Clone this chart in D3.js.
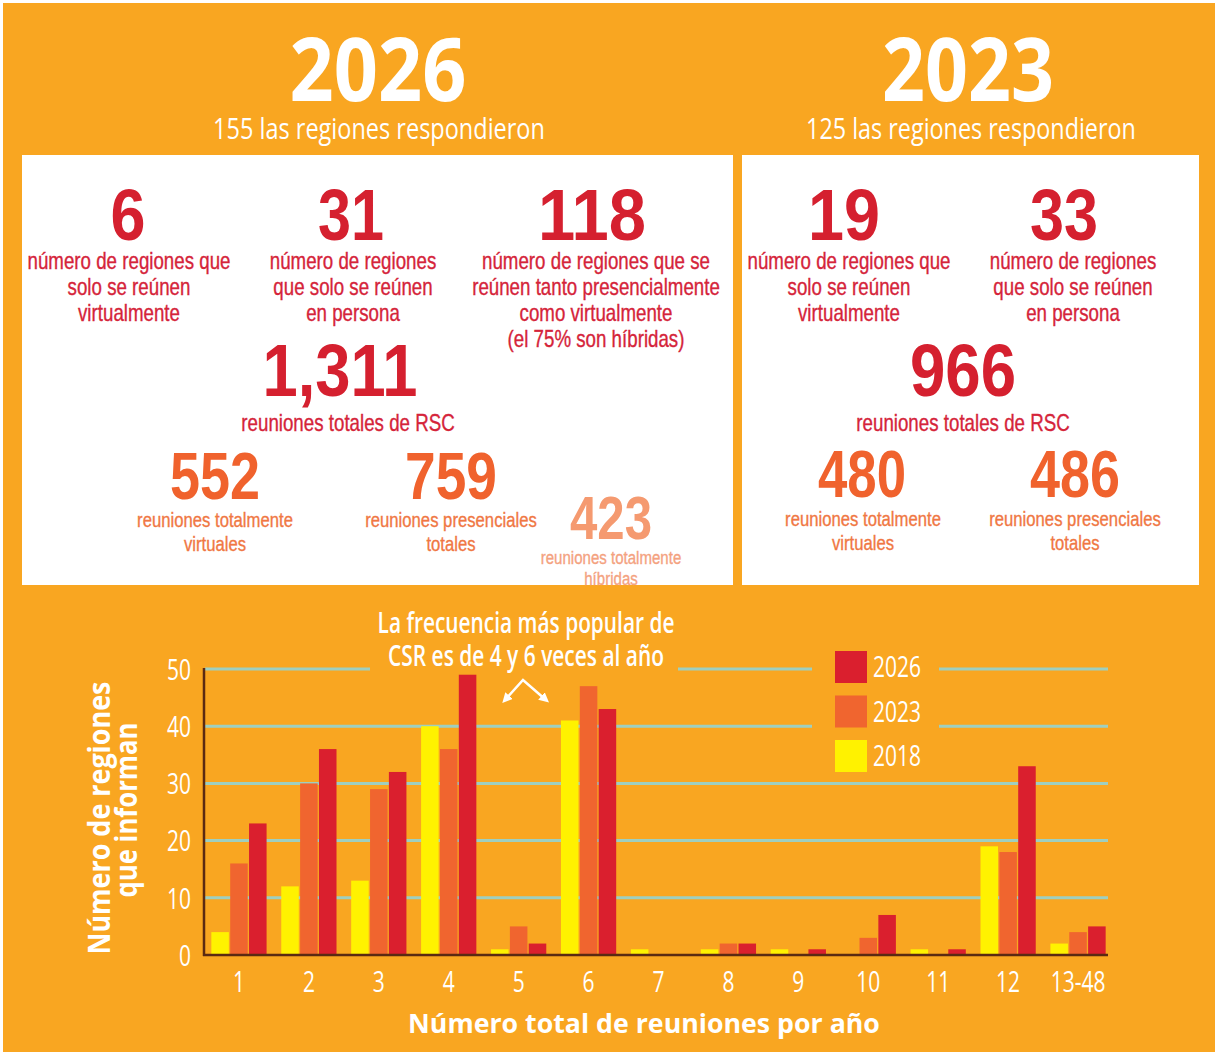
<!DOCTYPE html>
<html>
<head>
<meta charset="utf-8">
<script src="https://cdn.jsdelivr.net/npm/d3@7"></script>
<style>
  body { margin: 0; background: #fff; }
  svg { display: block; }
</style>
</head>
<body>
<svg id="chart" width="1215" height="1052"></svg>
<script>
'use strict';

// ---- data ----
const categories = ['1', '2', '3', '4', '5', '6', '7', '8', '9', '10', '11', '12', '13-48'];
const seriesYears = ['2018', '2023', '2026'];
const values2018 = [4, 12, 13, 40, 1, 41, 1, 1, 1, 0, 1, 19, 2];
const values2023 = [16, 30, 29, 36, 5, 47, 0, 2, 0, 3, 0, 18, 4];
const values2026 = [23, 36, 32, 49, 2, 43, 0, 2, 1, 7, 1, 33, 5];
const yTicks = [0, 10, 20, 30, 40, 50];
const legendYears = ['2026', '2023', '2018'];

const headerYears = ['2026', '2023'];
const headerSubs = ['155 las regiones respondieron', '125 las regiones respondieron'];

const stats2026 = ['6', '31', '118', '1,311', '552', '759', '423'];
const statLabels2026 = [
  ['número de regiones que', 'solo se reúnen', 'virtualmente'],
  ['número de regiones', 'que solo se reúnen', 'en persona'],
  ['número de regiones que se', 'reúnen tanto presencialmente', 'como virtualmente', '(el 75% son híbridas)'],
  ['reuniones totales de RSC'],
  ['reuniones totalmente', 'virtuales'],
  ['reuniones presenciales', 'totales'],
  ['reuniones totalmente', 'híbridas'],
];
const stats2023 = ['19', '33', '966', '480', '486'];
const statLabels2023 = [
  ['número de regiones que', 'solo se reúnen', 'virtualmente'],
  ['número de regiones', 'que solo se reúnen', 'en persona'],
  ['reuniones totales de RSC'],
  ['reuniones totalmente', 'virtuales'],
  ['reuniones presenciales', 'totales'],
];

const annotation = ['La frecuencia más popular de', 'CSR es de 4 y 6 veces al año'];
const yTitle = ['Número de regiones', 'que informan'];
const xTitle = 'Número total de reuniones por año';

// ---- styles ----
const FONT = "'Open Sans', 'Liberation Sans', sans-serif";
// tighter line boxes for the stacked stat texts
const BOX_FONT = "'Liberation Sans', Arial, sans-serif";
const BG = '#F9A621';
const seriesColor = { '2018': '#FFF200', '2023': '#F0652F', '2026': '#DA1F2E' };
const tiers = {
  red:    { num: '#D5202F', lab: '#D5243A', size: 23, lh: 26 },
  orange: { num: '#F0622D', lab: '#F07743', size: 20.5, lh: 24 },
  pale:   { num: '#F59A70', lab: '#F4A27F', size: 18.5, lh: 21 },
};

const svg = d3.select('#chart');
svg.append('rect')
   .attr('x', 3).attr('y', 3)
   .attr('width', 1212).attr('height', 1049)
   .attr('fill', BG);

// the original is set in a condensed face, so squeeze texts to the widths in the picture
const fitText = function (g, str, x, y, w, size, fill, weight, rotate, family) {
  const t = g.append('text')
     .attr('text-anchor', 'middle')
     .attr('font-family', family || FONT)
     .attr('font-size', size)
     .attr('font-weight', weight)
     .attr('fill', fill)
     .text(str);
  const k = w / t.node().getComputedTextLength();
  t.attr('transform', `translate(${x},${y})${rotate ? ' rotate(-90)' : ''} scale(${k},1)`);
  return t;
};

// one squeeze factor for all the small labels, taken from one line of known width
const probe = svg.append('text').attr('font-family', BOX_FONT).attr('font-size', 23).text('número de regiones que');
const labelK = 203 / probe.node().getComputedTextLength();
probe.remove();

const labelLines = function (g, arr, x, y, tier) {
  arr.forEach((s, i) => {
    g.append('text')
     .attr('text-anchor', 'middle')
     .attr('font-family', BOX_FONT)
     .attr('font-size', tier.size)
     .attr('fill', tier.lab)
     .attr('stroke', tier.lab)
     .attr('stroke-width', 0.35)
     .attr('transform', `translate(${x},${y + i * tier.lh}) scale(${labelK},1)`)
     .text(s);
  });
};

// ---- headers ----
const headerPos = [
  { x: 378, w: 177, sx: 379, sw: 332 },
  { x: 968, w: 172, sx: 971, sw: 330 },
];
headerYears.forEach((yr, i) => {
  fitText(svg, yr, headerPos[i].x, 101, headerPos[i].w, 87, '#fff', 700);
  fitText(svg, headerSubs[i], headerPos[i].sx, 139, headerPos[i].sw, 30, '#fff', 400);
});

// ---- white stat boxes ----
svg.append('rect').attr('x', 22).attr('y', 155).attr('width', 711).attr('height', 430).attr('fill', '#fff');
svg.append('rect').attr('x', 742).attr('y', 155).attr('width', 457).attr('height', 430).attr('fill', '#fff');

const layout2026 = [
  { x: 128, y: 240, size: 73, w: 35, lx: 129, ly: 269, tier: 'red' },
  { x: 351, y: 240, size: 73, w: 66, lx: 353, ly: 269, tier: 'red' },
  { x: 592, y: 240, size: 73, w: 108, lx: 596, ly: 269, tier: 'red' },
  { x: 340, y: 396, size: 75, w: 155, lx: 348, ly: 431, tier: 'red' },
  { x: 215, y: 499, size: 67, w: 90, lx: 215, ly: 527, tier: 'orange' },
  { x: 451, y: 499, size: 67, w: 92, lx: 451, ly: 527, tier: 'orange' },
  { x: 611, y: 539, size: 62, w: 82, lx: 611, ly: 564, tier: 'pale' },
];
const layout2023 = [
  { x: 844, y: 240, size: 73, w: 72, lx: 849, ly: 269, tier: 'red' },
  { x: 1064, y: 240, size: 73, w: 68, lx: 1073, ly: 269, tier: 'red' },
  { x: 963, y: 396, size: 75, w: 106, lx: 963, ly: 431, tier: 'red' },
  { x: 862, y: 497, size: 67, w: 88, lx: 863, ly: 526, tier: 'orange' },
  { x: 1075, y: 497, size: 67, w: 90, lx: 1075, ly: 526, tier: 'orange' },
];

const drawStats = function (nums, labels, layout) {
  const g = svg.append('g');
  nums.forEach((n, i) => {
    const p = layout[i];
    const tier = tiers[p.tier];
    fitText(g, n, p.x, p.y, p.w, p.size, tier.num, 700, false, BOX_FONT);
    labelLines(g, labels[i], p.lx, p.ly, tier);
  });
};
drawStats(stats2026, statLabels2026, layout2026);
drawStats(stats2023, statLabels2023, layout2023);

// ---- bar chart ----
const table = categories.map((c, i) => ({
  cat: c,
  '2018': values2018[i],
  '2023': values2023[i],
  '2026': values2026[i],
}));

const x = d3.scaleBand()
  .domain(categories)
  .range([204, 1113])
  .paddingInner(0.21)
  .paddingOuter(0.105);
const xInner = d3.scaleBand()
  .domain(seriesYears)
  .range([0, x.bandwidth()])
  .paddingInner(0.07);
const y = d3.scaleLinear().domain([0, 50]).range([955, 669]);

// grid
svg.append('g')
   .selectAll('line')
   .data(yTicks.filter((d) => d > 0))
   .join('line')
   .attr('x1', 205).attr('x2', 1108)
   .attr('y1', (d) => y(d)).attr('y2', (d) => y(d))
   .attr('stroke', '#9ECFC0')
   .attr('stroke-width', 3);

// gaps in the grid behind the note and the legend
svg.append('rect').attr('x', 370).attr('y', 600).attr('width', 308).attr('height', 74).attr('fill', BG);
svg.append('rect').attr('x', 812).attr('y', 640).attr('width', 127).attr('height', 136).attr('fill', BG);

// bars
const groups = svg.append('g')
  .selectAll('g')
  .data(table)
  .join('g')
  .attr('transform', (d) => `translate(${x(d.cat)},0)`);
groups.selectAll('rect')
  .data((d) => seriesYears.map((s) => ({ s: s, v: d[s] })))
  .join('rect')
  .attr('x', (d) => xInner(d.s))
  .attr('width', xInner.bandwidth())
  .attr('y', (d) => y(d.v))
  .attr('height', (d) => y(0) - y(d.v))
  .attr('fill', (d) => seriesColor[d.s]);

// axis lines
svg.append('line').attr('x1', 204).attr('x2', 204).attr('y1', 668).attr('y2', 956)
   .attr('stroke', '#5B2A12').attr('stroke-width', 2.5);
svg.append('line').attr('x1', 203).attr('x2', 1108).attr('y1', 955).attr('y2', 955)
   .attr('stroke', '#5B2A12').attr('stroke-width', 2.5);

const tickK = 0.7;
const yAxis = svg.append('g')
  .attr('transform', 'translate(204,0)')
  .call(d3.axisLeft(y).tickValues(yTicks).tickSize(0));
yAxis.select('.domain').remove();
yAxis.selectAll('text')
  .attr('fill', '#fff')
  .attr('font-family', FONT)
  .attr('font-size', 30)
  .attr('x', -13 / tickK)
  .attr('dy', '0.34em')
  .attr('transform', `scale(${tickK},1)`);

const xAxis = svg.append('g')
  .attr('transform', 'translate(0,955)')
  .call(d3.axisBottom(x).tickSize(0));
xAxis.select('.domain').remove();
xAxis.selectAll('text')
  .attr('fill', '#fff')
  .attr('font-family', FONT)
  .attr('font-size', 30)
  .attr('y', 37)
  .attr('dy', 0)
  .attr('transform', `scale(${tickK},1)`)
  .attr('x', 0);

// axis titles
fitText(svg, xTitle, 644, 1033, 472, 27, '#fff', 700);
fitText(svg, yTitle[0], 110, 818, 273, 30, '#fff', 700, true);
fitText(svg, yTitle[1], 137, 810, 175, 30, '#fff', 700, true);

// legend
const legend = svg.append('g')
  .selectAll('g')
  .data(legendYears)
  .join('g')
  .attr('transform', (d, i) => `translate(835,${651 + i * 44.5})`);
legend.append('rect')
  .attr('width', 32).attr('height', 32)
  .attr('fill', (d) => seriesColor[d]);
legend.each(function (d) {
  fitText(d3.select(this), d, 62, 26, 48, 29, '#fff', 400);
});

// note with its arrows
fitText(svg, annotation[0], 526, 633, 297, 28, '#fff', 600);
fitText(svg, annotation[1], 526, 666, 276, 28, '#fff', 600);

svg.append('defs').append('marker')
   .attr('id', 'head')
   .attr('viewBox', '0 0 10 10')
   .attr('refX', 6).attr('refY', 5)
   .attr('markerWidth', 4).attr('markerHeight', 4)
   .attr('orient', 'auto-start-reverse')
   .append('path')
   .attr('d', 'M0,0 L10,5 L0,10 Z')
   .attr('fill', '#fff');
svg.append('path')
   .attr('d', 'M505,700 L523,680 L546,700')
   .attr('fill', 'none')
   .attr('stroke', '#fff')
   .attr('stroke-width', 2.5)
   .attr('marker-start', 'url(#head)')
   .attr('marker-end', 'url(#head)');
</script>
</body>
</html>
